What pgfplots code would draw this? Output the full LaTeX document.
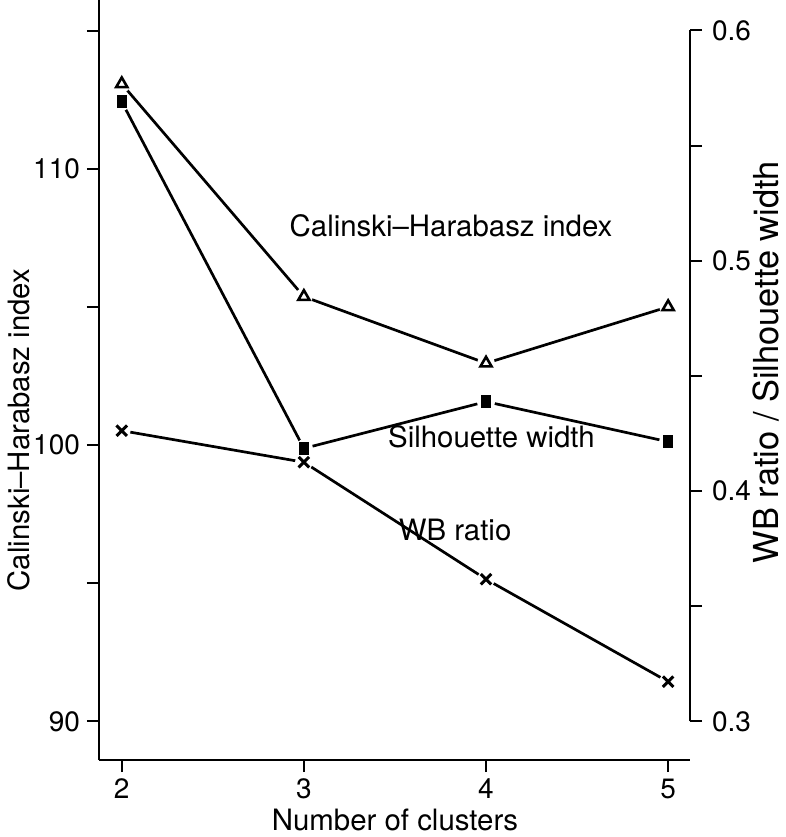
\documentclass[border=0pt]{standalone}
\usepackage{pgfplots}
\pgfplotsset{compat=1.18}
\usepackage{fontspec}
\setmainfont{TeX Gyre Heros}
\newcommand{\labfont}{\fontsize{14.7}{17}\selectfont}
\begin{document}
\begin{tikzpicture}
\pgfplotsset{
  common/.style={
    scale only axis, width=295.5pt, height=380pt,
    at={(49.5pt,0pt)}, anchor=north west,
    xmin=1.875, xmax=5.12,
    tick align=outside, major tick length=6pt,
    every tick/.style={black, line width=1pt},
    every tick label/.append style={font=\fontsize{14}{16}\selectfont},
    clip=false,
  }
}
\begin{axis}[common,
  ymin=88.60, ymax=116.105,
  axis x line*=bottom, axis y line*=left,
  axis line style={line width=1pt},
  xtick={2,3,4,5},
  xticklabels={2,3,4,5},
  ytick={90,95,100,105,110,115},
  yticklabels={90,,100,,110,},
]
% Calinski-Harabasz index
\addplot[black, line width=1.35pt] coordinates {(2,113.07) (3,105.37) (4,102.96) (5,105.0)};
\addplot[only marks, mark=*, mark size=4.2pt, mark options={draw=white, fill=white}] coordinates {(2,113.07) (3,105.37) (4,102.96) (5,105.0)};
\addplot[only marks, mark=triangle, mark size=3.2pt, mark options={black, line width=1.3pt, solid}] coordinates {(2,113.07) (3,105.37) (4,102.96) (5,105.0)};
\node[font=\labfont] at (axis cs:3.808,107.93) {Calinski–Harabasz index};
\node[font=\labfont] at (axis cs:4.03,100.3) {Silhouette width};
\node[font=\labfont] at (axis cs:3.83,96.92) {WB ratio};
\end{axis}
\begin{axis}[common,
  ymin=0.2832, ymax=0.6132,
  axis x line=none, axis y line*=right,
  y axis line style={draw=none},
  ytick={0.3,0.35,0.4,0.45,0.5,0.55,0.6},
  yticklabels={0.3,,0.4,,0.5,,0.6},
  yticklabel style={xshift=1.5pt},
]
\draw[line width=1pt] (axis cs:5.12,0.3) -- (axis cs:5.12,0.6);
% Silhouette width
\addplot[black, line width=1.35pt] coordinates {(2,0.569) (3,0.4185) (4,0.4388) (5,0.4214)};
% WB ratio
\addplot[black, line width=1.35pt] coordinates {(2,0.4262) (3,0.4125) (4,0.3617) (5,0.3172)};
\addplot[only marks, mark=*, mark size=4.3pt, mark options={draw=white, fill=white}] coordinates {(2,0.569) (3,0.4185) (4,0.4388) (5,0.4214)};
\addplot[only marks, mark=*, mark size=4.2pt, mark options={draw=white, fill=white}] coordinates {(2,0.4262) (3,0.4125) (4,0.3617) (5,0.3172)};
\addplot[only marks, mark=square*, mark size=3pt, mark options={black, xscale=0.72}] coordinates {(2,0.569) (3,0.4185) (4,0.4388) (5,0.4214)};
\addplot[only marks, mark=x, mark size=3.7pt, mark options={black, line width=1.5pt}] coordinates {(2,0.4262) (3,0.4125) (4,0.3617) (5,0.3172)};
\end{axis}
\node[rotate=90, font=\labfont] at (9.5pt,-215pt) {Calinski–Harabasz index};
\node[rotate=90, font=\fontsize{17.2}{20}\selectfont] at (383pt,-181pt) {WB ratio / Silhouette width};
\node[font=\labfont] at (197.5pt,-410pt) {Number of clusters};
\pgfresetboundingbox
\useasboundingbox (0,0) rectangle (393pt,-418.5pt);
\end{tikzpicture}
\end{document}
